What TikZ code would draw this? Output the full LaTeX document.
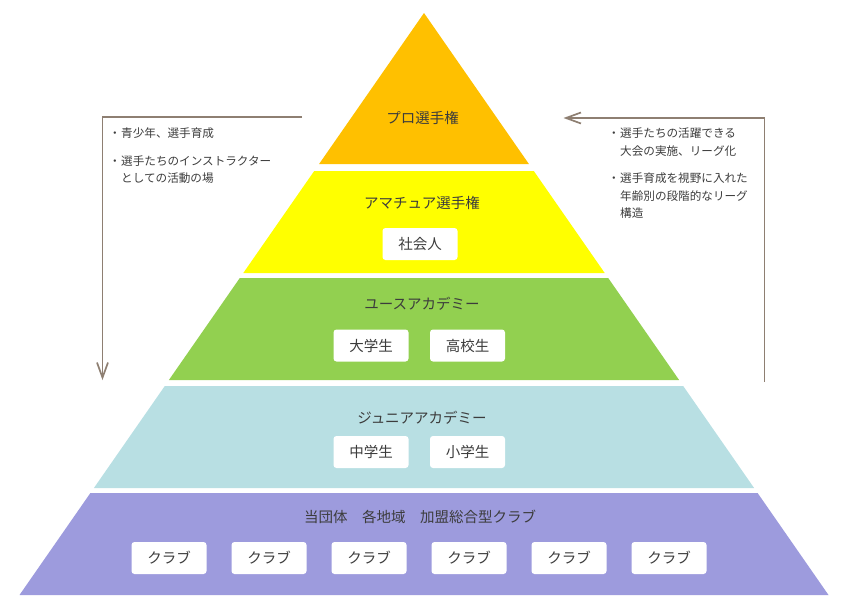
\documentclass[tikz,border=0pt]{standalone}
\usepackage{fontspec}
\setmainfont{Noto Sans CJK JP}
\usetikzlibrary{arrows.meta}
\definecolor{cOrange}{HTML}{FFC000}
\definecolor{cYellow}{HTML}{FFFF00}
\definecolor{cGreen}{HTML}{92D050}
\definecolor{cBlue}{HTML}{B8DFE3}
\definecolor{cPurple}{HTML}{9D9BDD}
\definecolor{cText}{HTML}{3C3C3C}
\definecolor{cLine}{HTML}{8E7F72}
\tikzset{
  layer title/.style={font=\fontsize{14.5}{16}\selectfont, text=cText, inner sep=0pt},
  whitebox/.style={fill=white, rounded corners=3pt, minimum width=75pt, minimum height=32pt, inner sep=0pt, font=\fontsize{14.5}{16}\selectfont, text=cText},
  note/.style={anchor=north west, align=left, inner sep=0pt, text=cText},
  dotmark/.style={anchor=north west, inner sep=0pt, text=cText, font=\fontsize{11.6}{16}\selectfont},
  flow/.style={draw=cLine, line width=1.7pt, -{Straight Barb[length=15pt,width=11pt,line width=1.7pt]}},
}
\begin{document}
\begin{tikzpicture}[x=1pt,y=-1pt]
\useasboundingbox (0,0) rectangle (848,605);
% pyramid layers
\fill[cOrange] (424,13) -- (528.9,164) -- (319.1,164) -- cycle;
\fill[cYellow] (314.2,171) -- (533.8,171) -- (604.7,273) -- (243.3,273) -- cycle;
\fill[cGreen] (239.8,278) -- (608.2,278) -- (679.1,380) -- (168.9,380) -- cycle;
\fill[cBlue] (164.8,386) -- (683.2,386) -- (754.1,488) -- (93.9,488) -- cycle;
\fill[cPurple] (90.4,493) -- (757.6,493) -- (828.5,595) -- (19.5,595) -- cycle;
% titles
\node[layer title] (pro) at (422.5,118) {プロ選手権};
\node[layer title] (ama) at (422,203) {アマチュア選手権};
\node[whitebox] (sha) at (420,244) {社会人};
\node[layer title] (youth) at (422,304) {ユースアカデミー};
\node[whitebox] (dai) at (371,345.5) {大学生};
\node[whitebox] (kou) at (467.5,345.5) {高校生};
\node[layer title] (jr) at (422,418) {ジュニアアカデミー};
\node[whitebox] (chu) at (371,452) {中学生};
\node[whitebox] (sho) at (467.5,452) {小学生};
\node[layer title] (clubs) at (420,517) {当団体\hspace{1em}各地域\hspace{1em}加盟総合型クラブ};
\foreach \i/\x in {1/169,2/269,3/369,4/469,5/569,6/669}{
  \node[whitebox] (club\i) at (\x,558) {クラブ};
}
% left notes
\node[note, font=\fontsize{11.6}{16.5}\selectfont] (ln1) at (121,127.3) {青少年、選手育成};
\node[note, font=\fontsize{11.6}{16.5}\selectfont] (ln2) at (121,156) {選手たちのインストラクター\\としての活動の場};
\node[dotmark, anchor=north east] (ld1) at (ln1.north west) {\vphantom{青}・};
\node[dotmark, anchor=north east] (ld2) at (ln2.north west) {\vphantom{選}・};
% right notes
\node[note, font=\fontsize{11.6}{18.2}\selectfont] (rn1) at (620,127.6) {選手たちの活躍できる\\大会の実施、リーグ化};
\node[note, font=\fontsize{11.6}{17.6}\selectfont] (rn2) at (620,172.6) {選手育成を視野に入れた\\年齢別の段階的なリーグ\\構造};
\node[dotmark, anchor=north east] (rd1) at (rn1.north west) {\vphantom{選}・};
\node[dotmark, anchor=north east] (rd2) at (rn2.north west) {\vphantom{選}・};
% connectors
\coordinate (lstart) at (302,116.7);
\coordinate (lcorner) at (102.5,116.7);
\coordinate (lend) at (102.5,380);
\draw[flow] (lstart) -- (lcorner) -- (lend);
\coordinate (rstart) at (764.5,382);
\coordinate (rcorner) at (764.5,118);
\coordinate (rend) at (563.5,118);
\draw[flow] (rstart) -- (rcorner) -- (rend);
\end{tikzpicture}
\end{document}
